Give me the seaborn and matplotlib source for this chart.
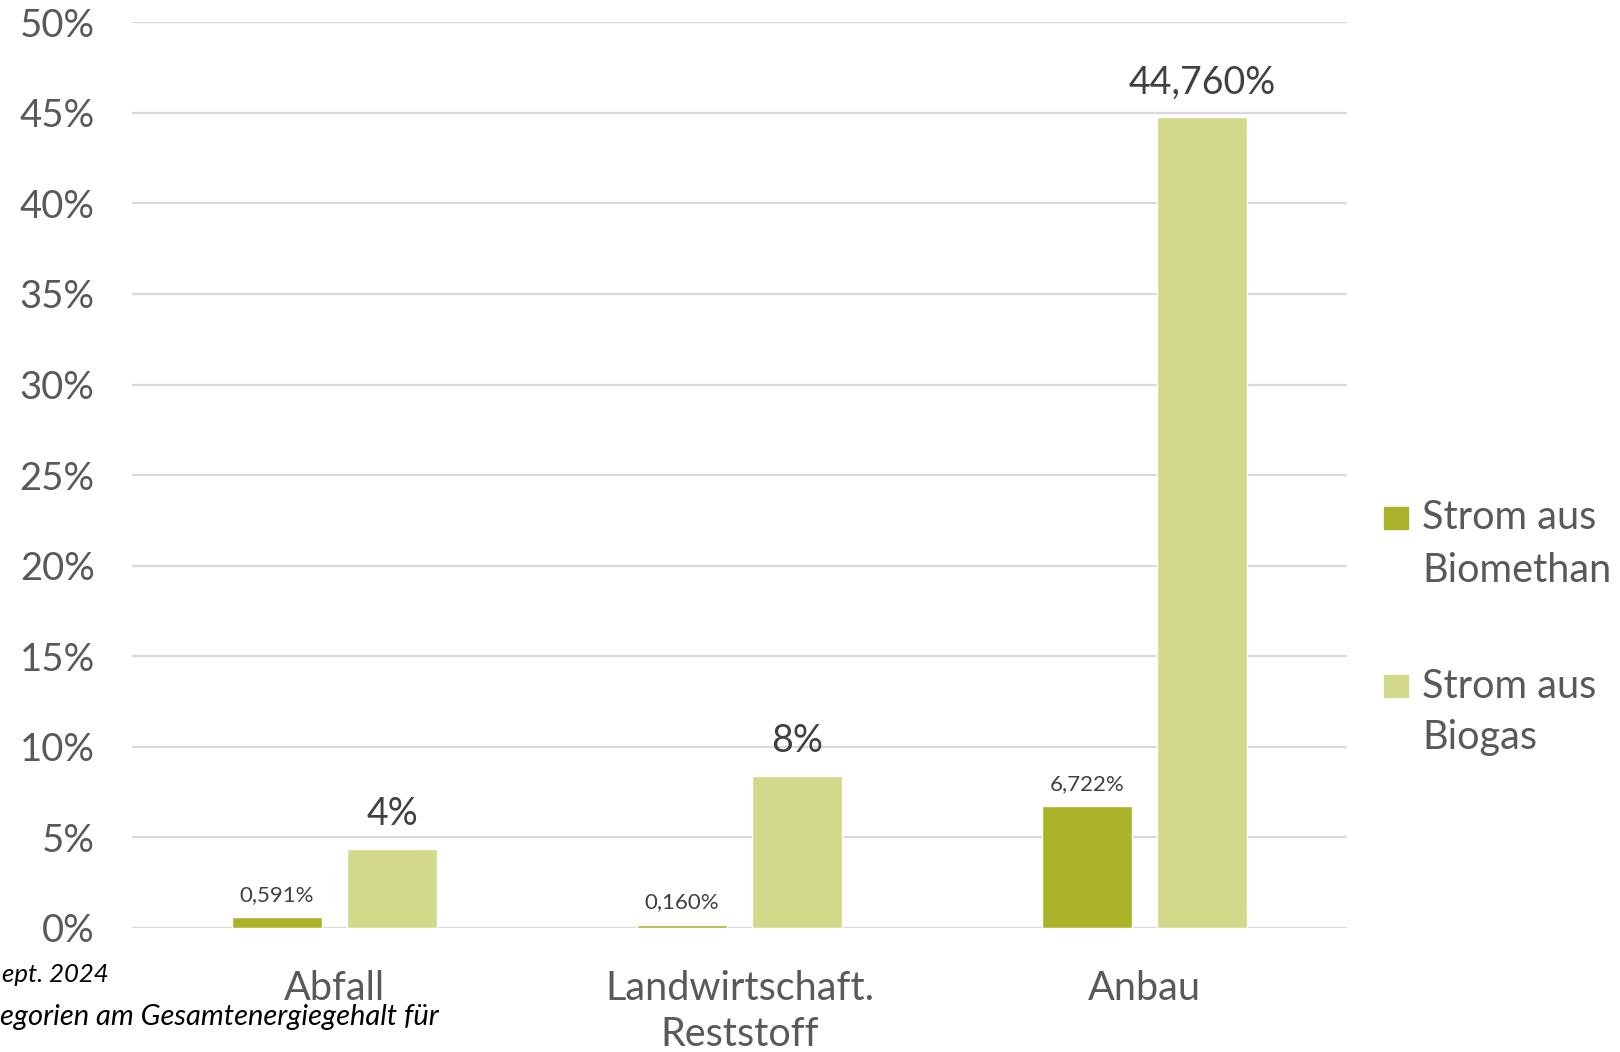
import numpy as np
import pandas as pd
import matplotlib
matplotlib.use("Agg")
import matplotlib.pyplot as plt
from matplotlib.patches import Rectangle
from matplotlib.ticker import FuncFormatter, MultipleLocator
import seaborn as sns

# Daten
kategorien = ["Abfall", "Landwirtschaft.\nReststoff", "Anbau"]
serien = ["Strom aus Biomethan", "Strom aus Biogas"]
biomethan = [0.591, 0.160, 6.722]
biogas = [4.36, 8.39, 44.760]
labels_biomethan = ["0,591%", "0,160%", "6,722%"]
labels_biogas = ["4%", "8%", "44,760%"]

farben = ["#ABB32B", "#D2D98A"]

df = pd.DataFrame({
    "Kategorie": kategorien * 2,
    "Serie": [serien[0]] * 3 + [serien[1]] * 3,
    "Wert": biomethan + biogas,
})

sns.set_style("white")
plt.rcParams["font.family"] = ["Lato", "DejaVu Sans"]

fig = plt.figure(figsize=(16.2, 10.52), dpi=100)
ax = fig.add_axes([0.0815, 0.1179, 0.75, 0.861])

sns.barplot(data=df, x="Kategorie", y="Wert", hue="Serie", order=kategorien,
            hue_order=serien, palette=farben, width=0.568, gap=0.225,
            saturation=1, legend=False, ax=ax)

ax.set_ylim(0, 50)
ax.yaxis.set_major_locator(MultipleLocator(5))
ax.yaxis.set_major_formatter(FuncFormatter(lambda v, p: f"{int(round(v))}%"))
ax.grid(axis="y", color="#D9D9D9", lw=1.6)
ax.set_axisbelow(True)
for s in ax.spines.values():
    s.set_visible(False)
ax.tick_params(axis="both", length=0, colors="#595959")
ax.tick_params(axis="y", pad=27, labelsize=27.5)
ax.tick_params(axis="x", pad=30, labelsize=28.5)
for t in ax.get_xticklabels():
    t.set_linespacing(1.3)
ax.set_xlabel("")
ax.set_ylabel("")
ax.set_xlim(-0.5, 2.5)

# Wertbeschriftungen
ax.bar_label(ax.containers[0], labels=labels_biomethan, padding=9,
             fontsize=16, color="#404040")
ax.bar_label(ax.containers[1], labels=labels_biogas, padding=12,
             fontsize=27, color="#404040")

# Legende (Marker an erster Zeile ausgerichtet)
W, H = 1620, 1052
eintraege = [("Strom aus", "Biomethan", 518), ("Strom aus", "Biogas", 686)]
for (z1, z2, y), farbe in zip(eintraege, farben):
    fig.patches.append(Rectangle((1384 / W, 1 - (y + 11) / H), 24 / W, 22 / H,
                                 transform=fig.transFigure, color=farbe))
    fig.text(1422 / W, 1 - y / H, z1, fontsize=28.5, color="#595959", va="center")
    fig.text(1422 / W, 1 - (y + 52) / H, z2, fontsize=28.5, color="#595959", va="center")

# angeschnittene Quellenangabe (sichtbarer Teil)
fig.text(2 / W, 1 - 982 / H, "ept. 2024", fontsize=18.5, style="italic",
         color="black", ha="left", va="baseline")
fig.text(439 / W, 1 - 1025 / H, "egorien am Gesamtenergiegehalt für",
         fontsize=21, style="italic", color="black", ha="right", va="baseline")

fig.savefig("out.png", dpi=100)
